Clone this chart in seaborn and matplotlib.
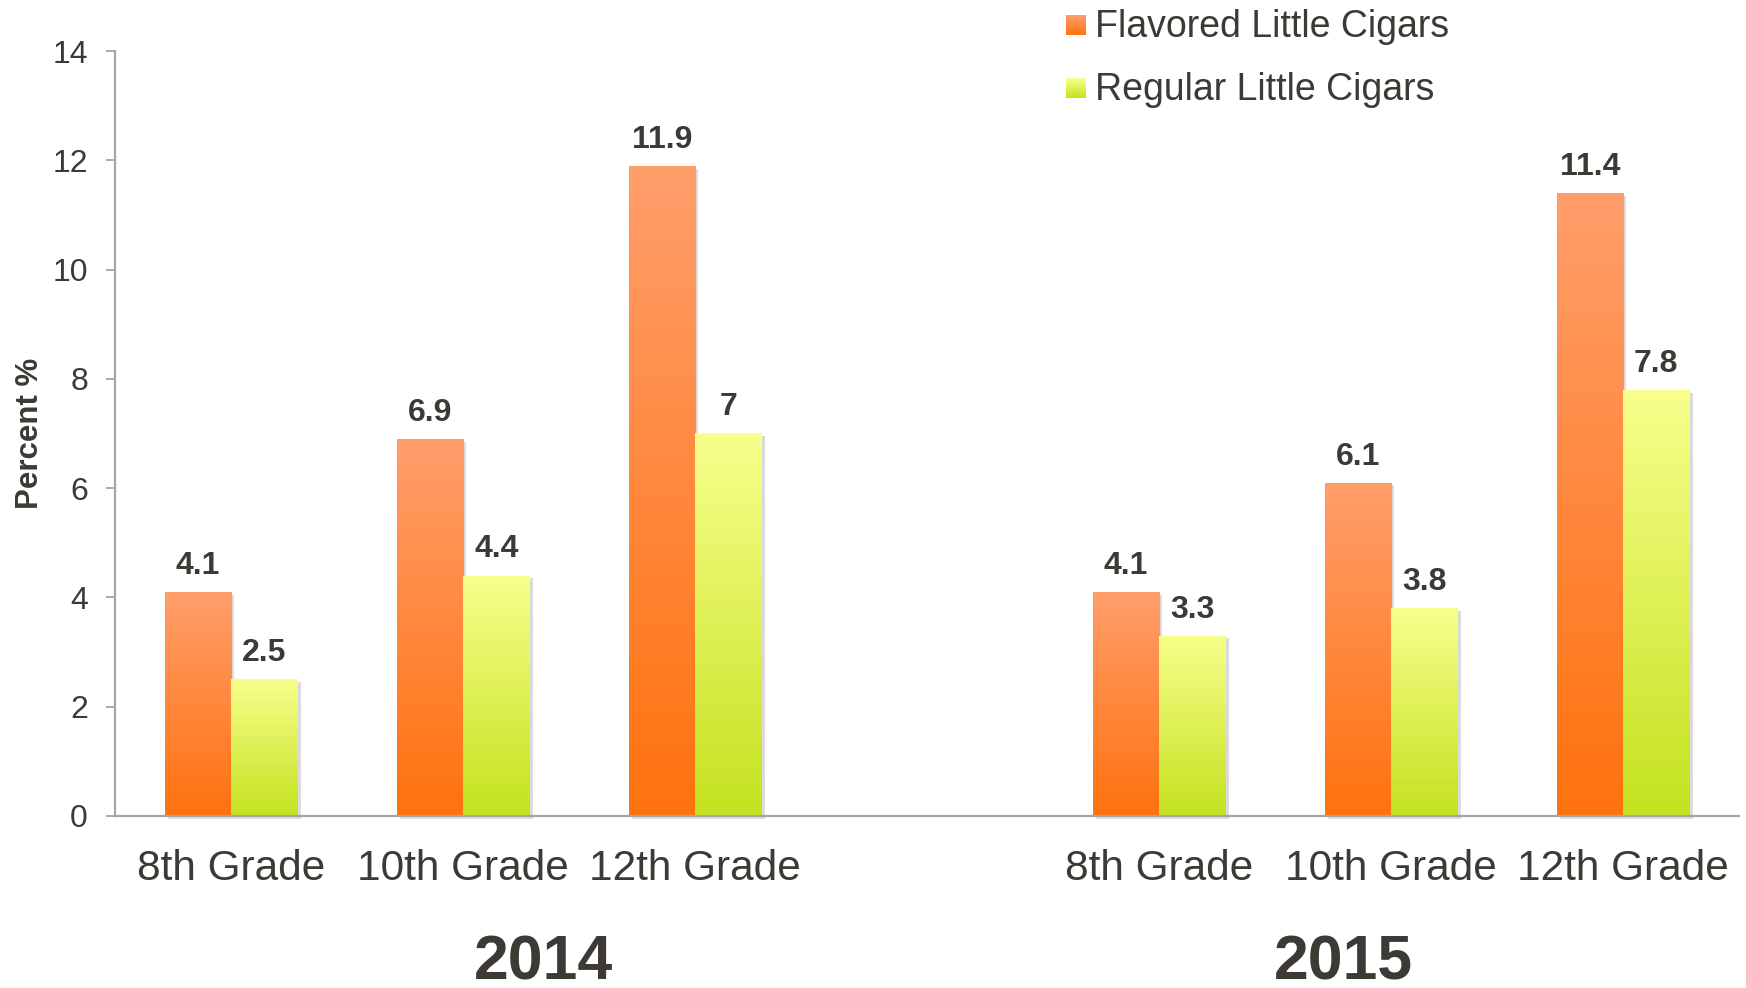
import numpy as np
import pandas as pd
import matplotlib
matplotlib.use("Agg")
import matplotlib.pyplot as plt
import matplotlib.transforms as mtransforms
import matplotlib.patheffects as pe
from matplotlib.patches import Rectangle
from matplotlib.legend_handler import HandlerBase
from matplotlib.colors import to_rgb
import seaborn as sns

# ---- data ----
years = ["2014", "2015"]
grades = ["8th Grade", "10th Grade", "12th Grade"]
series = ["Flavored Little Cigars", "Regular Little Cigars"]
flavored = [4.1, 6.9, 11.9, 4.1, 6.1, 11.4]
regular = [2.5, 4.4, 7.0, 3.3, 3.8, 7.8]
y_ticks = [0, 2, 4, 6, 8, 10, 12, 14]

slots = [f"{g} {y}" for y in years for g in grades]
order = slots[:3] + ["gap"] + slots[3:]
tick_labels = grades + [""] + grades

df = pd.DataFrame({
    "slot": slots * 2,
    "series": [series[0]] * len(slots) + [series[1]] * len(slots),
    "value": flavored + regular,
})

# ---- styling ----
TXT = "#3d3a35"
AXIS = "#a6a6a6"
GRAD = {  # (top, bottom) of each bar's vertical gradient
    series[0]: ("#ff9e6b", "#ff720e"),
    series[1]: ("#f8ff8c", "#c4e21f"),
}

sns.set_theme(style="white")
plt.rcParams["font.family"] = ["Liberation Sans", "DejaVu Sans"]

fig = plt.figure(figsize=(17.46, 9.88), dpi=100)
ax = fig.add_axes([0.06586, 0.17409, 0.93013, 0.77429])

sns.barplot(data=df, x="slot", y="value", hue="series", order=order,
            hue_order=series, palette={s: GRAD[s][1] for s in series},
            width=0.573, gap=0, linewidth=0, saturation=1,
            errorbar=None, legend=False, ax=ax)


def gradient_image(top, bottom, n=256):
    t = np.linspace(0, 1, n)[:, None]
    top, bottom = np.array(to_rgb(top)), np.array(to_rgb(bottom))
    return (bottom + (top - bottom) * t)[:, None, :]


shadow = [pe.SimplePatchShadow(offset=(2.5, -2), shadow_rgbFace="#8a8a8a", alpha=0.3),
          pe.Normal()]

for cont, s in zip(ax.containers, series):
    img = gradient_image(*GRAD[s])
    for bar in cont:
        bar.set_path_effects(shadow)
        bar.set_clip_on(False)
        x0, y0 = bar.get_x(), bar.get_y()
        w, h = bar.get_width(), bar.get_height()
        im = ax.imshow(img, extent=[x0, x0 + w, y0, y0 + h], origin="lower",
                       aspect="auto", interpolation="bilinear", zorder=2)
        im.set_clip_path(bar)
    ax.bar_label(cont, fmt="%g", padding=8, fontsize=23, fontweight="bold",
                 color=TXT, zorder=4)

ax.set_xlim(-0.5, len(order) - 0.5)
ax.set_ylim(0, 14)
ax.set_yticks(y_ticks)
ax.set_xticks(range(len(order)))
ax.set_xticklabels(tick_labels)

ax.tick_params(axis="x", length=0, pad=24, labelsize=30.5, labelcolor=TXT)
ax.tick_params(axis="y", left=True, length=6.5, width=1.3, color=AXIS,
               direction="out", pad=13, labelsize=23, labelcolor=TXT)

for side in ("top", "right"):
    ax.spines[side].set_visible(False)
for side in ("left", "bottom"):
    ax.spines[side].set_color(AXIS)
    ax.spines[side].set_linewidth(1.6)

ax.set_xlabel("")
ax.set_ylabel("")
fig.text(30 / 1746, 1 - 433 / 988, "Percent %", rotation=90, ha="center",
         va="center", fontsize=22.5, fontweight="bold", color=TXT)

# year captions under each group of grades
blend = mtransforms.blended_transform_factory(ax.transData, ax.transAxes)
for yr, xpos in zip(years, [1.345, 4.797]):
    ax.text(xpos, -0.214, yr, transform=blend, ha="center", va="baseline",
            fontsize=45, fontweight="bold", color=TXT)


class GradientSquare(HandlerBase):
    def __init__(self, top, bottom, n=16):
        super().__init__()
        self.top = np.array(to_rgb(top))
        self.bottom = np.array(to_rgb(bottom))
        self.n = n

    def create_artists(self, legend, orig_handle, xdescent, ydescent,
                       width, height, fontsize, trans):
        size = min(width, height)
        arts = []
        for i in range(self.n):
            frac = i / (self.n - 1)
            c = self.bottom + (self.top - self.bottom) * frac
            arts.append(Rectangle((-xdescent, -ydescent + size * i / self.n),
                                  size, size / self.n * 1.05, facecolor=c,
                                  edgecolor="none", transform=trans))
        return arts


handles = [Rectangle((0, 0), 1, 1) for _ in series]
ax.legend(handles, series,
          handler_map={h: GradientSquare(*GRAD[s]) for h, s in zip(handles, series)},
          loc="upper left", bbox_to_anchor=(1066 / 1746, 1 - 9 / 988),
          bbox_transform=fig.transFigure, frameon=False, fontsize=27,
          labelcolor=TXT, handlelength=0.53, handleheight=0.53,
          handletextpad=0.25, labelspacing=0.72, borderpad=0, borderaxespad=0)

fig.savefig("out.png", dpi=100)
